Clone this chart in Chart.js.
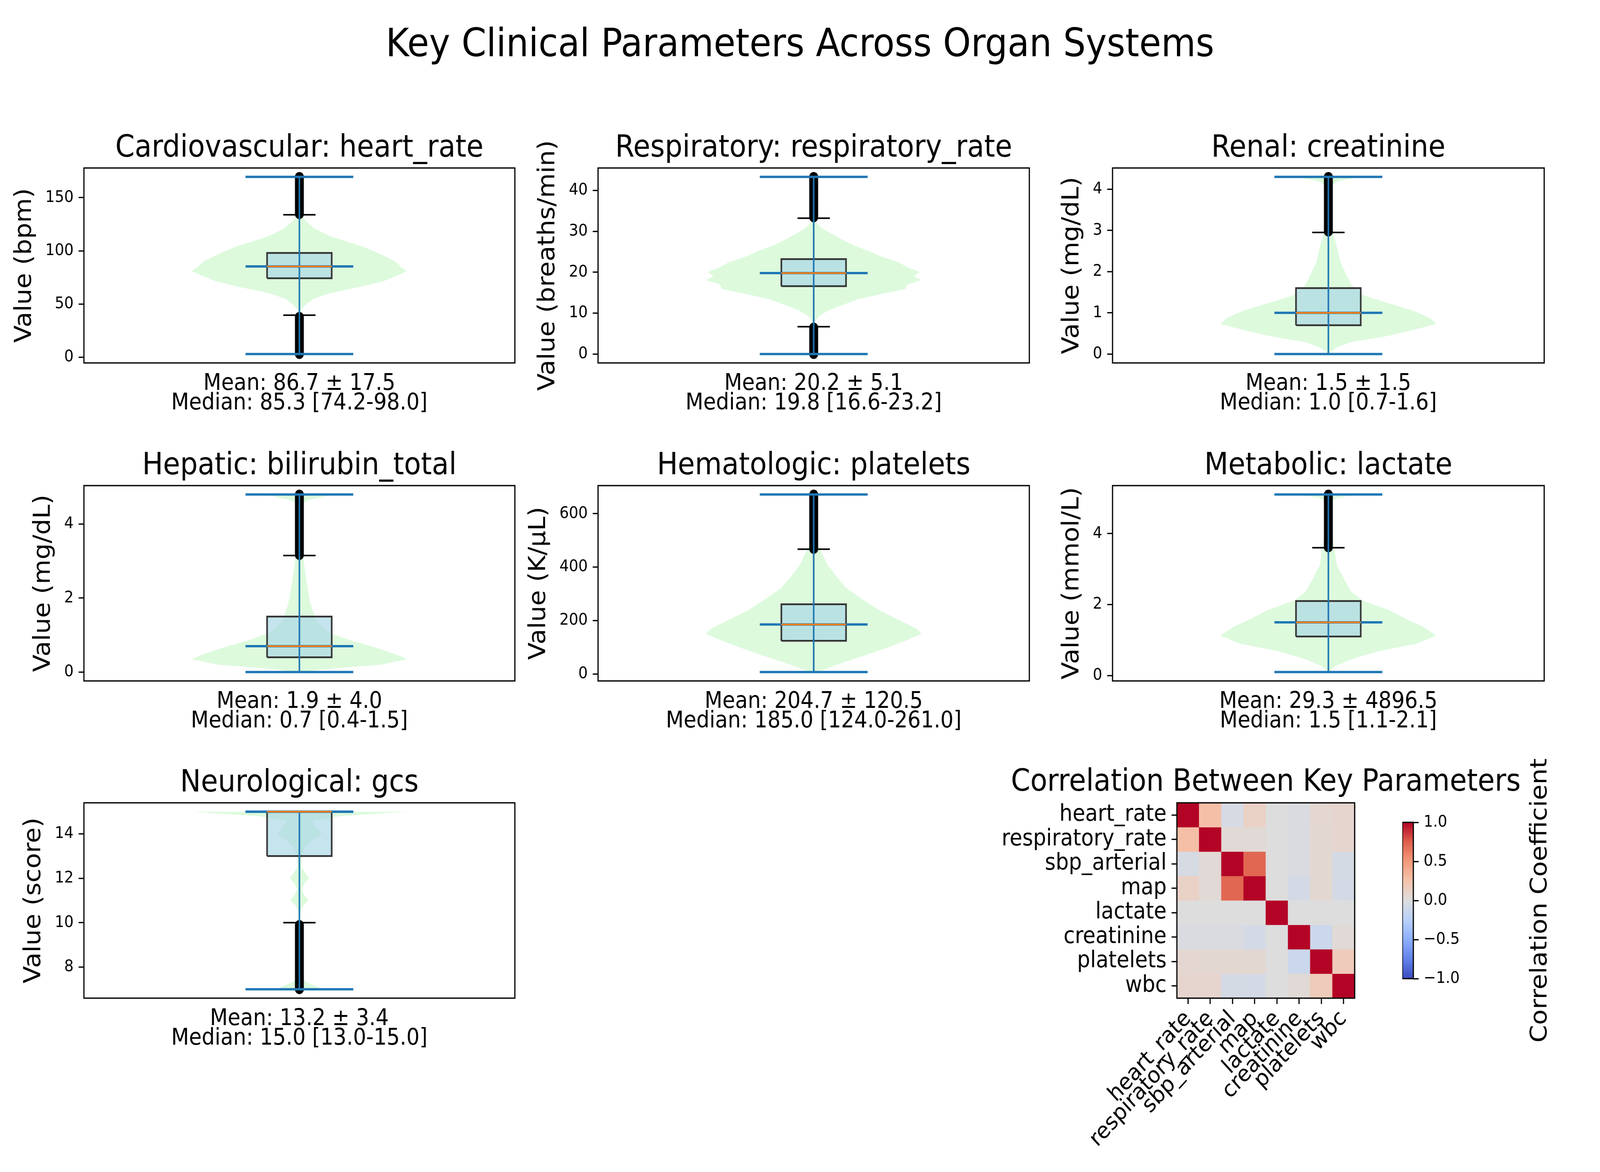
<!DOCTYPE html>
<html>
<head>
<meta charset="utf-8">
<script src="https://cdn.jsdelivr.net/npm/chart.js@4.4.1/dist/chart.umd.min.js"></script>
<style>
  html, body { margin: 0; padding: 0; background: #fff; overflow: hidden; }
  #page { position: relative; width: 4500px; height: 3000px; background: #fff; overflow: hidden; transform-origin: 0 0; }
  #page canvas { position: absolute; }
  .txt { position: absolute; color: #000; white-space: nowrap; font-family: "DejaVu Sans", sans-serif; }
</style>
</head>
<body>
<div id="page">
  <div class="txt" id="suptitle" style="left:0;top:58px;width:4500px;text-align:center;font-size:100px;line-height:104px;">Key Clinical Parameters Across Organ Systems</div>
  <div class="txt" id="cbLabel" style="left:4327px;top:2305px;font-size:65px;line-height:65px;transform:translate(-50%,-50%) rotate(-90deg);">Correlation Coefficient</div>
</div>
<script>
/* data */
const panelTitles = ["Cardiovascular: heart_rate", "Respiratory: respiratory_rate", "Renal: creatinine",
  "Hepatic: bilirubin_total", "Hematologic: platelets", "Metabolic: lactate", "Neurological: gcs"];
const yLabels = ["Value (bpm)", "Value (breaths/min)", "Value (mg/dL)", "Value (mg/dL)",
  "Value (K/μL)", "Value (mmol/L)", "Value (score)"];

const means   = [86.7, 20.2, 1.5, 1.9, 204.7, 29.3, 13.2];
const sds     = [17.5, 5.1, 1.5, 4.0, 120.5, 4896.5, 3.4];
const medians = [85.3, 19.8, 1.0, 0.7, 185.0, 1.5, 15.0];
const q1s     = [74.2, 16.6, 0.7, 0.4, 124.0, 1.1, 13.0];
const q3s     = [98.0, 23.2, 1.6, 1.5, 261.0, 2.1, 15.0];
const mins    = [3, 0, 0, 0, 7, 0.1, 7];
const maxs    = [169.5, 43.3, 4.3, 4.8, 672, 5.1, 15];
const whiskerLows  = [39.5, 6.7, 0, 0, 7, 0.1, 10];
const whiskerHighs = [133.9, 33.2, 2.95, 3.15, 467, 3.6, 15];
// extent of the outlier markers [lowest, highest]
const lowFliers  = [[3, 38], [0, 6.5], null, null, null, null, [7, 9.9]];
const highFliers = [[134.5, 169.5], [33.4, 43.3], [2.97, 4.3], [3.16, 4.8], [468, 672], [3.61, 5.1], null];
const yTicks = [[0, 50, 100, 150], [0, 10, 20, 30, 40], [0, 1, 2, 3, 4], [0, 2, 4],
  [0, 200, 400, 600], [0, 2, 4], [8, 10, 12, 14]];

// violin outlines: value levels and relative half-width (1 = widest)
const hrLevels = [3, 30, 44, 49, 55, 60, 63.4, 67, 71.5, 76, 81, 85, 90, 97, 104, 109, 114, 121, 128, 135, 150, 169.5];
const hrWidths = [0, 0.003, 0.01, 0.055, 0.13, 0.28, 0.43, 0.6, 0.78, 0.89, 1.0, 0.94, 0.89, 0.75, 0.59, 0.43, 0.28, 0.14, 0.06, 0.01, 0.003, 0];
const rrLevels = [0, 5, 7.9, 9.3, 10.7, 12.0, 13.4, 14.8, 15.9, 17.0, 18.1, 19.0, 20.1, 21.1, 22.5, 23.9, 25.2, 26.6, 28.0, 29.3, 30.7, 32, 33.4, 38, 43.3];
const rrWidths = [0, 0.002, 0.01, 0.05, 0.14, 0.27, 0.41, 0.65, 0.85, 0.87, 1.0, 0.93, 0.98, 0.88, 0.78, 0.62, 0.51, 0.37, 0.26, 0.17, 0.08, 0.03, 0.01, 0.002, 0];
const crLevels = [0, 0.15, 0.29, 0.43, 0.56, 0.73, 0.88, 1.06, 1.24, 1.42, 1.69, 1.96, 2.24, 2.6, 2.87, 3.2, 3.6, 4.0, 4.1, 4.2, 4.3];
const crWidths = [0, 0.07, 0.21, 0.53, 0.75, 1.0, 0.94, 0.78, 0.55, 0.33, 0.21, 0.16, 0.11, 0.08, 0.05, 0.035, 0.025, 0.02, 0.03, 0.1, 0.3];
const biLevels = [0, 0.1, 0.2, 0.35, 0.46, 0.66, 0.86, 1.06, 1.37, 1.87, 2.38, 2.89, 3.3, 3.8, 4.3, 4.56, 4.66, 4.8];
const biWidths = [0, 0.32, 0.76, 1.0, 0.91, 0.71, 0.47, 0.28, 0.16, 0.1, 0.07, 0.045, 0.03, 0.025, 0.02, 0.03, 0.1, 0.32];
const plLevels = [7, 14, 42, 70, 98, 126, 150, 168, 196, 238, 280, 322, 365, 407, 449, 490, 560, 672];
const plWidths = [0, 0.08, 0.27, 0.48, 0.68, 0.86, 1.0, 0.96, 0.82, 0.61, 0.45, 0.3, 0.21, 0.13, 0.08, 0.03, 0.01, 0];
const laLevels = [0.1, 0.26, 0.47, 0.69, 0.9, 1.13, 1.37, 1.58, 1.85, 2.11, 2.37, 2.69, 3.11, 3.64, 4.2, 4.8, 4.9, 5.0, 5.1];
const laWidths = [0, 0.06, 0.22, 0.47, 0.82, 1.0, 0.88, 0.73, 0.56, 0.32, 0.21, 0.15, 0.08, 0.05, 0.025, 0.02, 0.02, 0.08, 0.28];
const gcLevels = [7, 7.15, 7.3, 7.5, 7.8, 10.0, 10.5, 10.8, 11.0, 11.2, 11.5, 11.8, 12.0, 12.2, 12.5, 13.0, 13.4, 13.7, 14.0, 14.3, 14.6, 14.8, 15];
const gcWidths = [0.2, 0.15, 0.07, 0.02, 0.003, 0.003, 0.01, 0.04, 0.085, 0.05, 0.02, 0.05, 0.09, 0.06, 0.02, 0.02, 0.05, 0.12, 0.21, 0.15, 0.12, 0.38, 1.0];
const violinLevels = [hrLevels, rrLevels, crLevels, biLevels, plLevels, laLevels, gcLevels];
const violinWidths = [hrWidths, rrWidths, crWidths, biWidths, plWidths, laWidths, gcWidths];

// correlation heatmap
const paramNames = ["heart_rate", "respiratory_rate", "sbp_arterial", "map", "lactate", "creatinine", "platelets", "wbc"];
const corrMatrix = [
  [1.00, 0.28, -0.05, 0.12, 0.00, -0.03, 0.07, 0.08],
  [0.28, 1.00, 0.04, 0.04, 0.00, -0.03, 0.06, 0.08],
  [-0.05, 0.04, 1.00, 0.72, 0.00, -0.03, 0.06, -0.06],
  [0.12, 0.04, 0.72, 1.00, 0.00, -0.07, 0.06, -0.07],
  [0.00, 0.00, 0.00, 0.00, 1.00, 0.00, 0.00, 0.00],
  [-0.03, -0.03, -0.03, -0.07, 0.00, 1.00, -0.12, 0.04],
  [0.07, 0.06, 0.06, 0.06, 0.00, -0.12, 1.00, 0.18],
  [0.08, 0.08, -0.06, -0.07, 0.00, 0.04, 0.18, 1.00]
];
const cbTicks = [-1, -0.5, 0, 0.5, 1];

/* layout / style */
const axesRects = [[236, 430, 1212, 499], [1682, 430, 1213, 499], [3129, 430, 1214, 499],
  [236, 1243, 1212, 500], [1682, 1243, 1213, 500], [3129, 1243, 1214, 500], [236, 2055, 1212, 500]];
const ylabelOffsets = [166, 140, 113, 113, 166, 113, 140];
const SIDE = 240, TOPH = 140, BOTH = 160;
const BLUE = "#1f77b4", ORANGE = "#ff7f0e", VIOLIN = "rgba(144,238,144,0.3)", BOX = "rgba(173,216,230,0.7)";
const coolwarmStops = [[0, [59, 76, 192]], [0.125, [98, 130, 234]], [0.25, [141, 176, 254]], [0.375, [184, 208, 249]],
  [0.5, [221, 221, 221]], [0.625, [245, 196, 173]], [0.75, [244, 154, 123]], [0.875, [222, 96, 77]], [1, [180, 4, 38]]];

Chart.defaults.font.family = "'DejaVu Sans', sans-serif";
Chart.defaults.color = "#000";

const page = document.getElementById("page");
// the browser window can come out smaller than 4500x3000: stretch the figure onto it
const sx = window.innerWidth / 4500, sy = window.innerHeight / 3000;
if (sx !== 1 || sy !== 1) page.style.transform = `scale(${sx}, ${sy})`;

function makeCanvas(left, top, w, h) {
  const c = document.createElement("canvas");
  c.width = w; c.height = h;
  c.style.left = left + "px"; c.style.top = top + "px";
  c.style.width = w + "px"; c.style.height = h + "px";
  page.appendChild(c);
  return c.getContext("2d");
}

function coolwarm(v) {
  const t = Math.max(0, Math.min(1, (v + 1) / 2));
  for (let k = 1; k < coolwarmStops.length; k++) {
    const [t1, c1] = coolwarmStops[k];
    const [t0, c0] = coolwarmStops[k - 1];
    if (t <= t1) {
      const f = (t - t0) / (t1 - t0);
      const c = c0.map((a, j) => Math.round(a + (c1[j] - a) * f));
      return `rgb(${c.join(",")})`;
    }
  }
  return "rgb(180,4,38)";
}

const framePlugin = {
  id: "frame",
  afterDatasetsDraw(chart) {
    const { ctx, chartArea: a } = chart;
    ctx.save();
    ctx.strokeStyle = "#000";
    ctx.lineWidth = 3.3;
    ctx.strokeRect(a.left, a.top, a.right - a.left, a.bottom - a.top);
    ctx.restore();
  }
};

function line(points, color, width, extra) {
  return Object.assign({
    data: points.map(([x, y]) => ({ x, y })),
    borderColor: color, borderWidth: width, pointRadius: 0, fill: false, tension: 0
  }, extra || {});
}

function tickGrid() {
  return { display: true, drawOnChartArea: false, drawTicks: true, tickLength: 15, tickWidth: 3.3, tickColor: "#000" };
}

// empty axis on the right so the canvas stays symmetric around the plot area
function spacer(width) {
  return { type: "linear", position: "right", display: true, min: 0, max: 1,
    ticks: { display: false }, grid: { display: false }, border: { display: false },
    afterFit: s => { s.width = width; } };
}

function violinPanel(i) {
  const [L, T, W, H] = axesRects[i];
  const ctx = makeCanvas(L - SIDE, T - TOPH, W + 2 * SIDE, TOPH + H + BOTH);
  const lv = violinLevels[i], wd = violinWidths[i];
  const med = medians[i], q1 = q1s[i], q3 = q3s[i];
  const span = maxs[i] - mins[i];

  const ds = [];
  // violin body, two halves filled towards the centre line
  ds.push(line(lv.map((v, k) => [1 + wd[k] * 0.25, v]), "rgba(0,0,0,0)", 0, { fill: { value: 1 }, backgroundColor: VIOLIN }));
  ds.push(line(lv.map((v, k) => [1 - wd[k] * 0.25, v]), "rgba(0,0,0,0)", 0, { fill: { value: 1 }, backgroundColor: VIOLIN }));
  // box
  ds.push(line([[1.075, q1], [1.075, q3]], "rgba(0,0,0,0)", 0, { fill: { value: 0.925 }, backgroundColor: BOX }));
  // whiskers + caps
  ds.push(line([[1, whiskerLows[i]], [1, q1]], "#000", 3.3));
  ds.push(line([[1, q3], [1, whiskerHighs[i]]], "#000", 3.3));
  ds.push(line([[0.9625, whiskerLows[i]], [1.0375, whiskerLows[i]]], "#000", 4));
  ds.push(line([[0.9625, whiskerHighs[i]], [1.0375, whiskerHighs[i]]], "#000", 4));
  // outliers
  [lowFliers[i], highFliers[i]].forEach(f => {
    if (f) ds.push(line([[1, f[0]], [1, f[1]]], "#000", 25, { borderCapStyle: "round" }));
  });
  ds.push(line([[0.925, q1], [1.075, q1], [1.075, q3], [0.925, q3], [0.925, q1]], "#333333", 4.5));
  // violin stem, extrema and median
  ds.push(line([[1, mins[i]], [1, maxs[i]]], BLUE, 4.5));
  ds.push(line([[0.875, mins[i]], [1.125, mins[i]]], BLUE, 6));
  ds.push(line([[0.875, maxs[i]], [1.125, maxs[i]]], BLUE, 6));
  ds.push(line([[0.875, med], [1.125, med]], BLUE, 6));
  ds.push(line([[0.925, med], [1.075, med]], ORANGE, 4));
  ds.forEach((d, k) => { d.order = 100 - k; d.yAxisID = "y"; });

  const statLines = [
    `Mean: ${means[i].toFixed(1)} ± ${sds[i].toFixed(1)}`,
    `Median: ${med.toFixed(1)} [${q1.toFixed(1)}-${q3.toFixed(1)}]`
  ];

  new Chart(ctx, {
    type: "line",
    data: { datasets: ds },
    options: {
      indexAxis: "y",
      responsive: false, animation: false, devicePixelRatio: 1, events: [],
      layout: { padding: 0 },
      elements: { point: { radius: 0 }, line: { tension: 0 } },
      plugins: {
        legend: { display: false }, tooltip: { enabled: false },
        title: { display: true, text: panelTitles[i], color: "#000",
          font: { size: 78, weight: "normal" }, padding: { top: 44.2, bottom: 2.2 } }
      },
      scales: {
        x: {
          type: "linear", min: 0.5, max: 1.5,
          grid: { display: false }, border: { display: false }, ticks: { display: false },
          title: { display: true, text: statLines, color: "#000",
            font: { size: 58, lineHeight: 50 / 58 }, padding: { top: 0, bottom: 31 } },
          afterFit: s => { s.height = BOTH; }
        },
        y: {
          type: "linear", min: mins[i] - 0.05 * span, max: maxs[i] + 0.05 * span,
          afterBuildTicks: s => { s.ticks = yTicks[i].map(v => ({ value: v })); },
          ticks: { font: { size: 41.7 }, color: "#000", padding: 14, autoSkip: false, callback: v => String(v) },
          grid: tickGrid(), border: { display: false },
          title: { display: true, text: yLabels[i], color: "#000",
            font: { size: 65 }, padding: { top: 201 - ylabelOffsets[i], bottom: 0 } },
          afterFit: s => { s.width = SIDE; }
        },
        pad: spacer(SIDE)
      }
    },
    plugins: [framePlugin]
  });
}

for (let i = 0; i < panelTitles.length; i++) violinPanel(i);

/* heatmap */
(function () {
  const L = 3310, T = 2055, N = paramNames.length, S = 500, LEFT = 600;
  const ctx = makeCanvas(L - LEFT, T - TOPH, S + 2 * LEFT, TOPH + S + 450);
  new Chart(ctx, {
    type: "bar",
    data: {
      labels: paramNames,
      datasets: corrMatrix.map((row, r) => ({
        data: row.map(() => [r - 0.5, r + 0.5]),
        backgroundColor: row.map(coolwarm),
        borderWidth: 0, categoryPercentage: 1, barPercentage: 1, yAxisID: "y"
      }))
    },
    options: {
      responsive: false, animation: false, devicePixelRatio: 1, events: [],
      layout: { padding: 0 },
      plugins: {
        legend: { display: false }, tooltip: { enabled: false },
        title: { display: true, text: "Correlation Between Key Parameters", color: "#000",
          font: { size: 78, weight: "normal" }, padding: { top: 42.2, bottom: 4.2 } }
      },
      scales: {
        x: {
          stacked: true,
          grid: Object.assign(tickGrid(), { offset: false }), border: { display: false },
          ticks: { font: { size: 58 }, color: "#000", minRotation: 45, maxRotation: 45, autoSkip: false, padding: 4 },
          afterFit: s => { s.height = 450; }
        },
        y: {
          type: "linear", reverse: true, min: -0.5, max: N - 0.5,
          afterBuildTicks: s => { s.ticks = paramNames.map((_, k) => ({ value: k })); },
          ticks: { font: { size: 58 }, color: "#000", padding: 14, autoSkip: false, callback: v => paramNames[v] },
          grid: tickGrid(), border: { display: false },
          afterFit: s => { s.width = LEFT; }
        },
        pad: spacer(LEFT)
      }
    },
    plugins: [framePlugin]
  });
})();

/* colorbar */
(function () {
  const L = 3944, T = 2105, W = 31, H = 400, PAD = 40, RIGHT = 200;
  const ctx = makeCanvas(L, T - PAD, W + RIGHT, H + 2 * PAD);
  new Chart(ctx, {
    type: "bar",
    data: {
      labels: ["r"],
      datasets: [{
        data: [[cbTicks[0], cbTicks[cbTicks.length - 1]]],
        backgroundColor: c => {
          const { ctx: g, chartArea } = c.chart;
          if (!chartArea) return null;
          const grad = g.createLinearGradient(0, chartArea.bottom, 0, chartArea.top);
          coolwarmStops.forEach(([t, rgb]) => grad.addColorStop(t, `rgb(${rgb.join(",")})`));
          return grad;
        },
        borderWidth: 0, categoryPercentage: 1, barPercentage: 1
      }]
    },
    options: {
      responsive: false, animation: false, devicePixelRatio: 1, events: [],
      layout: { padding: { left: 0, right: 0, top: PAD, bottom: PAD } },
      plugins: { legend: { display: false }, tooltip: { enabled: false } },
      scales: {
        x: { display: false },
        y: {
          position: "right", type: "linear", min: -1, max: 1,
          afterBuildTicks: s => { s.ticks = cbTicks.map(v => ({ value: v })); },
          ticks: { font: { size: 41.7 }, color: "#000", padding: 14, autoSkip: false,
            callback: v => v.toFixed(1).replace("-", "\u2212") },
          grid: tickGrid(), border: { display: false },
          afterFit: s => { s.width = RIGHT; }
        }
      }
    },
    plugins: [framePlugin]
  });
})();
</script>
</body>
</html>
